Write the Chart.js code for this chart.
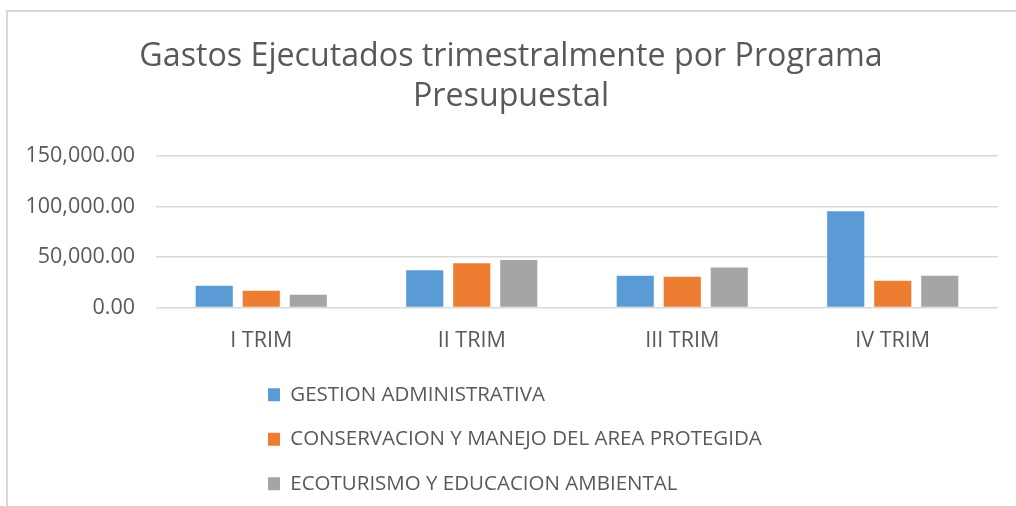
<!DOCTYPE html>
<html>
<head>
<meta charset="utf-8">
<script src="https://cdn.jsdelivr.net/npm/chart.js@4/dist/chart.umd.min.js"></script>
<style>
  html, body { margin: 0; padding: 0; background: #ffffff; }
  #wrap { position: relative; width: 1016px; height: 506px; overflow: hidden; }
  #frame { position: absolute; left: 6px; top: 10px; width: 1100px; height: 600px;
           border-left: 2px solid #d9d9d9; border-top: 2px solid #d9d9d9; }
  canvas { position: absolute; left: 0; top: 0; }
</style>
</head>
<body>
<div id="wrap">
  <div id="frame"></div>
  <canvas id="c" width="1016" height="506"></canvas>
</div>
<script>
const titleLines = ["Gastos Ejecutados trimestralmente por Programa", "Presupuestal"];
const categories = ["I TRIM", "II TRIM", "III TRIM", "IV TRIM"];
const seriesNames = ["GESTION ADMINISTRATIVA", "CONSERVACION Y MANEJO DEL AREA PROTEGIDA", "ECOTURISMO Y EDUCACION AMBIENTAL"];
const gestion = [21600, 36800, 31500, 95400];
const conservacion = [16600, 43700, 30500, 26500];
const ecoturismo = [12600, 47000, 39500, 31500];
const yTicks = [0, 50000, 100000, 150000];
const colors = ["#5B9BD5", "#ED7D31", "#A5A5A5"];

const TEXT = "#595959";
const FONT = "'Open Sans', 'DejaVu Sans', sans-serif";
const LEG_LEFT = 244;

const legendRows = {
  id: 'legendRows',
  beforeLayout(chart) {
    const lg = chart.legend;
    if (!lg || lg.__patched) return;
    lg.__patched = true;
    const fitRows = lg._fitRows;
    lg._fitRows = function (...a) {
      const mw = this.maxWidth; this.maxWidth = 1;
      const r = fitRows.apply(this, a);
      this.maxWidth = mw; return r;
    };
    const drawInner = lg._draw;
    lg._draw = function (...a) {
      const l = this.left, r = this.right;
      this.left = LEG_LEFT; this.right = LEG_LEFT + 1;
      drawInner.apply(this, a);
      this.left = l; this.right = r;
    };
  }
};

const fmt = v => Number(v).toLocaleString('en-US', { minimumFractionDigits: 2, maximumFractionDigits: 2 });

new Chart(document.getElementById('c'), {
  type: 'bar',
  data: {
    labels: categories,
    datasets: [
      { label: seriesNames[0], data: gestion, backgroundColor: colors[0] },
      { label: seriesNames[1], data: conservacion, backgroundColor: colors[1] },
      { label: seriesNames[2], data: ecoturismo, backgroundColor: colors[2] }
    ]
  },
  options: {
    responsive: false,
    animation: false,
    layout: { padding: { left: 24, right: 18, top: 0, bottom: 2 } },
    datasets: { bar: { categoryPercentage: 0.67, barPercentage: 0.79 } },
    font: { family: FONT },
    plugins: {
      title: {
        display: true,
        text: titleLines,
        color: TEXT,
        font: { family: FONT, size: 32.2, weight: 'normal', lineHeight: '40px' },
        padding: { top: 37, bottom: 39 }
      },
      legend: {
        display: true,
        position: 'bottom',
        align: 'start',
        labels: {
          color: TEXT,
          font: { family: FONT, size: 20.5 },
          boxWidth: 12,
          boxHeight: 13,
          padding: 24
        }
      },
      tooltip: { enabled: false }
    },
    scales: {
      x: {
        grid: { display: false, drawTicks: false },
        border: { display: false },
        ticks: { color: TEXT, font: { family: FONT, size: 21.5 }, padding: 20, maxRotation: 0 },
        afterFit(s) { s.height = 53; }
      },
      y: {
        min: 0,
        max: 150000,
        afterBuildTicks(s) { s.ticks = yTicks.map(v => ({ value: v })); },
        grid: { color: '#D9D9D9', lineWidth: 1.5, drawTicks: false },
        border: { display: false },
        ticks: { color: TEXT, font: { family: FONT, size: 21.5 }, padding: 21, callback: v => fmt(v) },
        afterFit(s) { s.width = 132; }
      }
    }
  },
  plugins: [legendRows]
});
</script>
</body>
</html>
